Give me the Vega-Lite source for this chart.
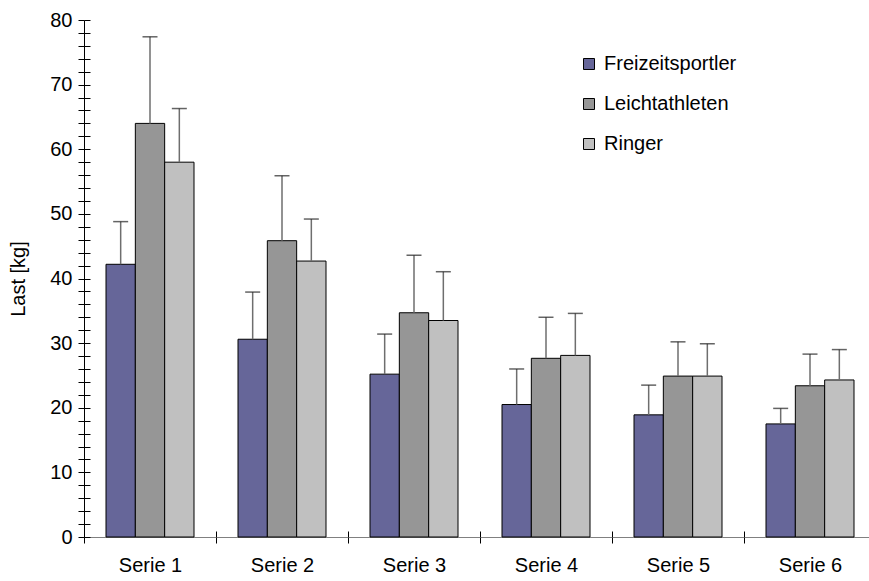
{
  "$schema": "https://vega.github.io/schema/vega-lite/v6.json",
  "width": 792,
  "height": 517,
  "autosize": "none",
  "padding": {"left": 84, "top": 20, "right": 0, "bottom": 44},
  "background": "white",
  "config": {
    "view": {"stroke": null},
    "axis": {"grid": false, "labelFont": "Liberation Sans", "titleFont": "Liberation Sans", "labelFontSize": 20, "titleFontSize": 20, "labelColor": "black", "titleColor": "black", "titleFontWeight": "normal"},
    "legend": {"labelFont": "Liberation Sans", "labelFontSize": 20, "labelColor": "black"}
  },
  "data": {
    "values": [
      {"serie": "Serie 1", "gruppe": "Freizeitsportler", "wert": 42.2, "oben": 48.8},
      {"serie": "Serie 1", "gruppe": "Leichtathleten", "wert": 64.0, "oben": 77.4},
      {"serie": "Serie 1", "gruppe": "Ringer", "wert": 58.0, "oben": 66.3},
      {"serie": "Serie 2", "gruppe": "Freizeitsportler", "wert": 30.6, "oben": 37.9},
      {"serie": "Serie 2", "gruppe": "Leichtathleten", "wert": 45.85, "oben": 55.9},
      {"serie": "Serie 2", "gruppe": "Ringer", "wert": 42.7, "oben": 49.2},
      {"serie": "Serie 3", "gruppe": "Freizeitsportler", "wert": 25.2, "oben": 31.4},
      {"serie": "Serie 3", "gruppe": "Leichtathleten", "wert": 34.7, "oben": 43.6},
      {"serie": "Serie 3", "gruppe": "Ringer", "wert": 33.5, "oben": 41.05},
      {"serie": "Serie 4", "gruppe": "Freizeitsportler", "wert": 20.5, "oben": 26.0},
      {"serie": "Serie 4", "gruppe": "Leichtathleten", "wert": 27.65, "oben": 34.0},
      {"serie": "Serie 4", "gruppe": "Ringer", "wert": 28.1, "oben": 34.6},
      {"serie": "Serie 5", "gruppe": "Freizeitsportler", "wert": 18.9, "oben": 23.5},
      {"serie": "Serie 5", "gruppe": "Leichtathleten", "wert": 24.9, "oben": 30.2},
      {"serie": "Serie 5", "gruppe": "Ringer", "wert": 24.9, "oben": 29.9},
      {"serie": "Serie 6", "gruppe": "Freizeitsportler", "wert": 17.5, "oben": 19.9},
      {"serie": "Serie 6", "gruppe": "Leichtathleten", "wert": 23.4, "oben": 28.3},
      {"serie": "Serie 6", "gruppe": "Ringer", "wert": 24.3, "oben": 29.0}
    ]
  },
  "resolve": {"axis": {"x": "independent", "y": "independent"}},
  "layer": [
    {
      "mark": {"type": "bar", "stroke": "black", "strokeWidth": 1},
      "encoding": {
        "x": {
          "field": "serie", "type": "nominal", "sort": null,
          "scale": {"paddingInner": 0, "paddingOuter": 0},
          "axis": {"orient": "bottom", "title": null, "labelAngle": 0, "tickBand": "extent", "tickSize": 6, "tickColor": "black", "domainColor": "#808080", "labelPadding": 12}
        },
        "xOffset": {
          "field": "gruppe", "type": "nominal", "sort": ["Freizeitsportler", "Leichtathleten", "Ringer"],
          "scale": {"paddingInner": 0, "paddingOuter": 0.75}
        },
        "y": {
          "field": "wert", "type": "quantitative",
          "scale": {"domain": [0, 80], "nice": false, "zero": true},
          "axis": {"orient": "left", "title": "Last [kg]", "values": [0,2,4,6,8,10,12,14,16,18,20,22,24,26,28,30,32,34,36,38,40,42,44,46,48,50,52,54,56,58,60,62,64,66,68,70,72,74,76,78,80], "labelExpr": "datum.value % 10 === 0 ? datum.label : ''", "tickSize": 6, "tickColor": "black", "domainColor": "black", "labelPadding": 6, "titlePadding": 21}
        },
        "color": {
          "field": "gruppe", "type": "nominal",
          "scale": {"domain": ["Freizeitsportler", "Leichtathleten", "Ringer"], "range": ["#666699", "#969696", "#C0C0C0"]},
          "legend": {"title": null, "orient": "none", "legendX": 495, "legendY": 34, "symbolType": "square", "symbolSize": 121, "symbolStrokeColor": "black", "symbolStrokeWidth": 1, "symbolOpacity": 1, "rowPadding": 20, "labelOffset": 5}
        }
      }
    },
    {
      "mark": {"type": "rule", "color": "#6e6e6e", "strokeWidth": 1.5},
      "encoding": {
        "x": {
          "field": "serie", "type": "nominal", "sort": null,
          "axis": {"orient": "bottom", "offset": -6, "title": null, "labels": false, "domain": false, "tickBand": "extent", "tickSize": 6, "tickColor": "black"}
        },
        "xOffset": {"field": "gruppe", "type": "nominal", "sort": ["Freizeitsportler", "Leichtathleten", "Ringer"]},
        "y": {
          "field": "wert", "type": "quantitative",
          "axis": {"orient": "left", "offset": -6, "title": null, "labels": false, "domain": false, "values": [0,2,4,6,8,10,12,14,16,18,20,22,24,26,28,30,32,34,36,38,40,42,44,46,48,50,52,54,56,58,60,62,64,66,68,70,72,74,76,78,80], "tickSize": 6, "tickColor": "black"}
        },
        "y2": {"field": "oben"}
      }
    },
    {
      "mark": {"type": "tick", "color": "#222222", "thickness": 1.5, "size": 15},
      "encoding": {
        "x": {"field": "serie", "type": "nominal", "sort": null, "axis": null},
        "xOffset": {"field": "gruppe", "type": "nominal", "sort": ["Freizeitsportler", "Leichtathleten", "Ringer"]},
        "y": {"field": "oben", "type": "quantitative", "axis": null}
      }
    }
  ]
}
